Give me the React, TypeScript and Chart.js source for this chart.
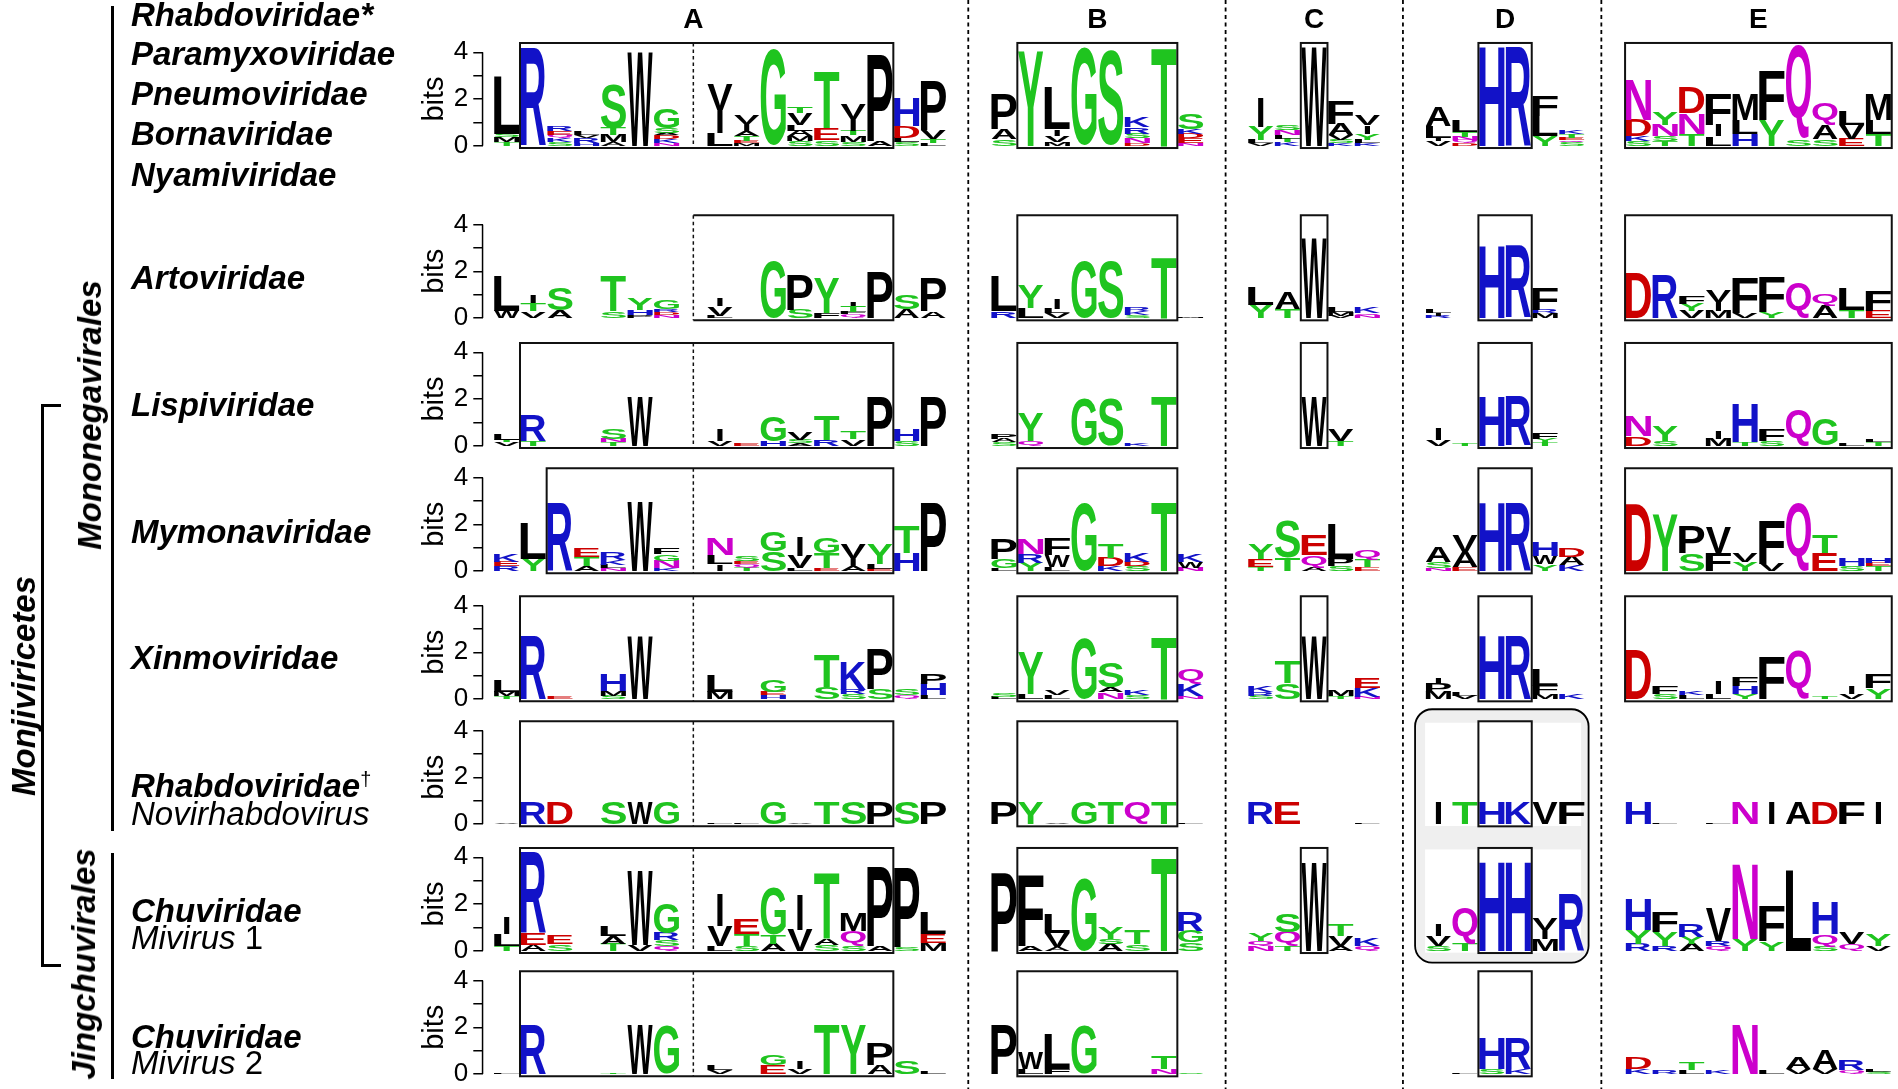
import React, { useEffect, useRef } from 'react';
import { Chart, registerables } from 'chart.js';

Chart.register(...registerables);

// ---------------- data: sequence-logo stacks, "letter + bits", listed bottom -> top ----------------
const SECTION_LABELS = ['A', 'B', 'C', 'D', 'E'];
const Y_TICK_LABELS = ['0', '', '2', '', '4'];

const PARAMYXO_A = ['T.15 M.2 S.15 L2.45', 'R4.2', 'S.15 K.18 Q.14 E.14 R.2', 'H.12 R.2 V.12 L.15', 'A.15 M.3 T.3 S1.9', 'W4.0', 'N.12 K.18 D.14 A.1 S.2 G.86', '', 'L.53 I1.0 V1.07', 'M.1 E.1 T.2 A.2 I.33 V.39', 'G4.1', 'S.2 M.2 A.25 L.25 V.5 T.26', 'S.24 E.5 T2.45', 'S.17 M.28 T.2 I.5 V.65', 'A.2 P3.7', 'S.15 L.2 D.5 H1.2', 'L.12 T.18 V.36 P2.07'];
const PARAMYXO_B = ['S.28 A.43 P1.47', 'Y4.05', 'M.15 V.28 I.28 L1.8', 'G4.2', 'S4.05', 'D.12 N.2 S.2 R.28 K.43', 'T4.2', 'N.12 E.2 D.2 K.2 S.65'];
const PARAMYXO_C = ['V.1 L.14 Y.57 I1.26', 'K.15 T.15 L.15 N.2 S.2', 'W4.2', 'K.1 S.14 V.2 A.5 F.97', 'K.1 L.14 Y.28 I.35 V.43'];
const PARAMYXO_D = ['V.2 I.14 L.5 A.8', 'D.12 Q.12 N.15 T.2 L.5', 'H4.25', 'R4.25', 'Y.43 L.85 F.86', 'S.14 Q.1 E.1 T.15 K.15'];
const PARAMYXO_E = ['S.2 K.2 D.7 N1.7', 'T.2 S.2 N.5 Y.55', 'T.5 N.9 D1.1', 'L.4 I.5 F1.3', 'H.5 L.6 M1.1', 'Y1.1 F2.1', 'S.3 Q4.0', 'S.3 A.6 Q.9', 'E.3 V.6 L.6', 'T.5 L.6 M1.1'];

const ARTO_A = ['W.3 L1.5', 'V.28 T.35 I.35', 'A.35 S.93', '', 'S.28 T1.5', 'P.12 H.22 Y.5', 'N.12 D.12 R.12 G.36', '', 'L.1 V.4 I.3', '', 'G2.4', 'S.36 P1.5', 'F.2 Y1.5', 'Q.15 F.1 T.25 I.15', 'P2.0', 'A.36 S.64', 'A.28 P1.45'];
const ARTO_B = ['R.28 L1.5', 'L.43 Y1.0', 'V.2 L.2 I.43', 'G2.4', 'S2.4', 'S.12 K.18 R.18', 'T2.6', 'M.05'];
const ARTO_C = ['Y.57 L.78', 'T.36 A.7', 'W3.4', 'V.1 M.15 L.2', 'N.1 Q.1 K.28'];
const ARTO_D = ['R.1 I.12 L.15', '', 'H3.1', 'R3.1', 'M.2 R.15 F.93', ''];
const ARTO_E = ['D1.9', 'R1.85', 'V.3 Y.3 F.35', 'M.3 I.4 V.5', 'V.2 F1.5', 'Y.25 F1.5', 'Q1.5', 'A.55 Q.5', 'T.35 L.9', 'E.3 F.9'];

const LISPI_A = ['V.15 T.1 L.25', 'T.2 R1.1', '', '', 'T.15 N.15 S.43', 'W2.1', '', '', 'V.2 I.5', 'E.1', 'H.2 G1.07', 'A.1 S.15 V.3', 'R.25 T1.03', 'V.28 T.3', 'P2.1', 'S.2 H.5', 'P2.1'];
const LISPI_B = ['S.15 A.15 P.2', 'Q.2 Y1.2', '', 'G2.05', 'S2.05', 'K.1', 'T2.1', ''];
const LISPI_C = ['', '', 'W2.1', 'T.2 V.5', ''];
const LISPI_D = ['V.25 I.5', 'T.1', 'H2.1', 'R2.1', 'T.15 Y.15 F.25', ''];
const LISPI_E = ['D.4 N.9', 'S.2 Y.65', '', 'M.3 I.3', 'T.15 H1.65', 'S.2 F.5', 'Q1.55', 'G1.1', 'L.1', 'T.15 L.1'];

const MYMONA_A = ['R.2 E.2 K.32', 'Y.53 L1.53', 'R2.95', 'A.2 T.38 E.39', 'N.12 L.14 K.2 R.3', 'W2.95', 'K.12 N.32 G.3 F.26', '', 'I.28 L.4 N.7', 'T.15 Q.15 E.12 S.2', 'S.85 G.86', 'L.12 V.53 I.8', 'E.12 T.64 G.65', 'A.2 I.36 V.57', 'E.1 L.2 Y.86', 'H.75 T1.15', 'P2.95'];
const MYMONA_B = ['L.12 G.4 P.86', 'Y.36 R.36 N.64', 'L.17 W.5 F.69', 'G2.95', 'K.2 D.36 T.61', 'S.2 D.2 K.36', 'T2.95', 'N.14 W.24 K.31'];
const MYMONA_C = ['T.17 E.33 Y.64', 'T.57 S1.57', 'A.17 Q.5 E.86', 'S.2 P.3 L1.46', 'E.15 T.3 Q.43'];
const MYMONA_D = ['N.12 S.25 A.64', 'E.17 A.64 V.71', 'H2.95', 'R2.95', 'Y.28 W.36 H.61', 'K.25 A.36 D.36'];
const MYMONA_E = ['D2.85', 'Y2.4', 'S.75 P1.15', 'F.75 V1.1', 'Y.4 V.4', 'V.3 F1.9', 'Q2.9', 'E.75 T.75', 'S.2 H.3', 'T.2 E.15 H.2'];

const XINMO_A = ['T.12 M.2 L.5', 'R2.7', 'E.08', '', 'S.14 M.2 H.7', 'W2.7', '', '', 'M.3 L.7', '', 'H.15 E.15 G.5', '', 'S.5 T1.35', 'S.2 R.2 K1.2', 'S.43 P1.7', 'Q.15 S.25', 'L.15 H.5 P.43'];
const XINMO_B = ['L.1 S.15', 'L.2 Y1.8', 'L.15 V.2', 'G2.6', 'N.28 A.2 S1.07', 'S.15 K.2', 'T2.65', 'N.12 K.5 Q.6'];
const XINMO_C = ['S.14 R.14 K.28', 'S.67 T.93', 'W2.7', 'T.12 M.28', 'N.1 K.37 E.43'];
const XINMO_D = ['M.3 P.36 I.28', 'V.14 L.14', 'H2.7', 'R2.7', 'M.2 F.36 L.7', 'K.2'];
const XINMO_E = ['D2.1', 'S.2 F.35', 'L.15 K.15', 'L.2 I.55', 'Y.2 H.35 F.4', 'F1.8', 'Q2.1', 'T.1', 'V.2 I.35', 'Y.45 F.6'];

const NOVIRHABDO_A = ['V.04', 'R.93', 'D.93', '', 'S.93', 'W.93', 'G.93', '', 'L.04', 'L.04', 'G.93', 'V.04', 'T.93', 'S.93', 'P.93', 'S.93', 'P.93'];
const NOVIRHABDO_B = ['P.93', 'Y.93', 'V.04', 'G.93', 'T.93', 'Q.93', 'T.93', 'L.04'];
const NOVIRHABDO_C = ['R.93', 'E.93', '', '', 'L.04'];
const NOVIRHABDO_D = ['I.93', 'T.93', 'H.93', 'K.93', 'V.93', 'F.93'];
const NOVIRHABDO_E = ['H.93', 'L.04', '', 'L.04', 'N.93', 'I.93', 'A.93', 'D.93', 'F.93', 'I.93'];

const MIVIRUS1_A = ['T.2 L.5 I.7', 'A.25 E.5 R3.5', 'S.3 E.4', '', 'T.3 A.35 L.45', 'V.25 W3.2', 'Q.2 S.25 R.3 G1.3', '', 'L.2 V.85 I1.4', 'S.2 T.5 E.65', 'A.3 T.4 G2.0', 'V.9 I1.5', 'S.25 A.25 T2.8', 'S.2 Q.65 M.75', 'A.2 P3.4', 'S.15 P3.45', 'M.35 E.35 L.9'];
const MIVIRUS1_B = ['P3.35', 'A.2 F3.05', 'A.15 V.6 L.8', 'G3.1', 'A.3 S.2 Y.5', 'S.3 T.6', 'T4.0', 'S.35 G.5 R.85'];
const MIVIRUS1_C = ['N.2 Q.2 Y.3', 'T.2 Q.6 S.78', 'W3.8', 'A.2 V.45 T.5', 'Q.2 K.3'];
const MIVIRUS1_D = ['S.2 V.45 I.5', 'T.3 Q1.55', 'H3.8', 'H3.8', 'M.5 I.4 V.5', 'R2.4'];
const MIVIRUS1_E = ['R.3 Y.6 H1.3', 'R.2 Y.6 F.9', 'A.3 Y.3 R.55', 'Q.2 R.2 V1.4', 'Y.5 N3.2', 'Y.4 F1.5', 'L3.45', 'S.2 Q.5 H1.35', 'Q.3 V.5', 'V.2 Y.5'];

const MIVIRUS2_A = ['L.05', 'R2.1', '', '', 'T.06', 'W2.1', 'G2.1', '', 'V.15 L.2', '', 'E.4 G.45', 'V.2 I.3', 'T2.1', 'Y2.1', 'A.4 P.95', 'S.55', 'L.08'];
const MIVIRUS2_B = ['P2.1', 'L.2 W.7', 'F.2 L1.5', 'G2.1', '', '', 'N.2 T.55', 'S.08'];
const MIVIRUS2_C = ['', '', '', '', ''];
const MIVIRUS2_D = ['', 'L.05', 'S.2 H1.3', 'K.2 R1.3', '', ''];
const MIVIRUS2_E = ['K.2 D.5', 'R.15', 'L.15 T.3', 'K.15', 'N2.1', 'L.15', 'V.2 A.5', 'V.2 A.8', 'Q.15 R.45', 'S.1 L.1'];

const ROWS = [
  [PARAMYXO_A, PARAMYXO_B, PARAMYXO_C, PARAMYXO_D, PARAMYXO_E],
  [ARTO_A, ARTO_B, ARTO_C, ARTO_D, ARTO_E],
  [LISPI_A, LISPI_B, LISPI_C, LISPI_D, LISPI_E],
  [MYMONA_A, MYMONA_B, MYMONA_C, MYMONA_D, MYMONA_E],
  [XINMO_A, XINMO_B, XINMO_C, XINMO_D, XINMO_E],
  [NOVIRHABDO_A, NOVIRHABDO_B, NOVIRHABDO_C, NOVIRHABDO_D, NOVIRHABDO_E],
  [MIVIRUS1_A, MIVIRUS1_B, MIVIRUS1_C, MIVIRUS1_D, MIVIRUS1_E],
  [MIVIRUS2_A, MIVIRUS2_B, MIVIRUS2_C, MIVIRUS2_D, MIVIRUS2_E],
];

// boxes drawn around conserved motifs
const A_BOX_START = [1, 7.5, 1, 2, 1, 1, 1, 1];
const HAS_C_BOX = [true, true, true, false, true, false, true, false];
const HAS_E_BOX = [true, true, true, true, true, false, false, false];

// ---------------- layout ----------------
const CANVAS_W = 1898;
const CANVAS_H = 1089;
const TOP = 40;
const BOTTOM = 1076;
const PX_PER_BIT = 23.35;
const AXIS_X = 483.3;
const ORIGIN_X = 493.33;
const COL_PX = 26.667;
const ROW_ZERO_PX = [145.7, 318, 445.7, 571, 699, 824, 950.7, 1074];
const SECTION_START = [0, 18.65, 28.28, 34.94, 42.44];
const SECTION_CENTERS = [SECTION_START[0] + 7.5, SECTION_START[1] + 4, SECTION_START[2] + 2.5, SECTION_START[3] + 3, SECTION_START[4] + 5];
const SEPARATORS = [17.81, 27.46, 34.11, 41.55];
const A_DIVIDER = 7.5;
const A_BOX_END = 15;
const BOX_B = [1, 7];
const BOX_C = [2, 3];
const BOX_D = [2, 4];
const BOX_E = [0, 10];
const BOX_TOP = 4.4;
const BOX_BOTTOM = -0.1;

const FONT = '"Liberation Sans", Arial, Helvetica, sans-serif';
const GREEN = '#1fc41f';
const BLUE = '#1212c8';
const RED = '#cc0000';
const MAGENTA = '#cc00cc';

const COLOR: Record<string, string> = {};
'GSTYC'.split('').forEach((c) => (COLOR[c] = GREEN));
'NQ'.split('').forEach((c) => (COLOR[c] = MAGENTA));
'KRH'.split('').forEach((c) => (COLOR[c] = BLUE));
'DE'.split('').forEach((c) => (COLOR[c] = RED));

const BASES = ROW_ZERO_PX.map((z) => (BOTTOM - z) / PX_PER_BIT);
const Y_MAX = (BOTTOM - TOP) / PX_PER_BIT;
const X_MIN = (AXIS_X - ORIGIN_X) / COL_PX;
const X_MAX = (CANVAS_W - ORIGIN_X) / COL_PX;

function buildDatasets() {
  const levels: any[][] = [];
  ROWS.forEach((row, r) => {
    const base = BASES[r];
    row.forEach((cols, s) => {
      cols.forEach((col, c) => {
        let cum = 0;
        col.split(' ').filter(Boolean).forEach((tok, k) => {
          const letter = tok[0];
          const h = parseFloat(tok.slice(1));
          if (!(h > 0)) return;
          if (!levels[k]) levels[k] = [];
          levels[k].push({ x: SECTION_START[s] + c + 0.5, y: [base + cum, base + cum + h], letter });
          cum += h;
        });
      });
    });
  });
  return levels.map((data, k) => ({
    type: 'bar',
    label: 'stack level ' + k,
    data,
    backgroundColor: 'rgba(0,0,0,0)',
    borderWidth: 0,
    grouped: false,
    barPercentage: 1,
    categoryPercentage: 1,
    clip: false,
  }));
}

const glyphCache: Record<string, { l: number; r: number; a: number; d: number }> = {};
function getGlyph(ctx: CanvasRenderingContext2D, ch: string) {
  if (!glyphCache[ch]) {
    ctx.save();
    ctx.font = `bold 200px ${FONT}`;
    const m = ctx.measureText(ch);
    ctx.restore();
    glyphCache[ch] = { l: m.actualBoundingBoxLeft, r: m.actualBoundingBoxRight, a: m.actualBoundingBoxAscent, d: m.actualBoundingBoxDescent };
  }
  return glyphCache[ch];
}

function drawLetter(ctx: CanvasRenderingContext2D, ch: string, x: number, y: number, w: number, h: number) {
  if (h < 0.3 || w <= 0) return;
  const g = getGlyph(ctx, ch);
  const gw = g.l + g.r;
  const gh = g.a + g.d;
  if (gw <= 0 || gh <= 0) return;
  let tw = w - 1.5;
  let x0 = x + 0.75;
  if (ch === 'I') {
    tw = w * 0.2;
    x0 = x + (w - tw) / 2;
  }
  ctx.save();
  ctx.translate(x0, y);
  ctx.scale(tw / gw, h / gh);
  ctx.font = `bold 200px ${FONT}`;
  ctx.fillStyle = COLOR[ch] || '#000';
  ctx.textAlign = 'left';
  ctx.textBaseline = 'alphabetic';
  ctx.fillText(ch, g.l, g.a);
  ctx.restore();
}

function roundRect(ctx: CanvasRenderingContext2D, x: number, y: number, w: number, h: number, r: number) {
  ctx.beginPath();
  ctx.moveTo(x + r, y);
  ctx.arcTo(x + w, y, x + w, y + h, r);
  ctx.arcTo(x + w, y + h, x, y + h, r);
  ctx.arcTo(x, y + h, x, y, r);
  ctx.arcTo(x, y, x + w, y, r);
  ctx.closePath();
}

const logoPlugin = {
  id: 'logoPlugin',
  beforeDatasetsDraw(chart: any) {
    const { ctx } = chart;
    const xs = chart.scales.x;
    const ys = chart.scales.y;
    const px = (u: number) => xs.getPixelForValue(u);
    const py = (v: number) => ys.getPixelForValue(v);
    const d0 = SECTION_START[3];
    const x0 = px(d0) - 10;
    const x1 = px(d0 + 6) + 3.5;
    const y0 = py(BASES[5] + BOX_TOP) - 12;
    const y1 = py(BASES[6]) + 12;
    ctx.save();
    roundRect(ctx, x0, y0, x1 - x0, y1 - y0, 17);
    ctx.fillStyle = '#efefef';
    ctx.fill();
    ctx.fillStyle = '#ffffff';
    [5, 6].forEach((r) => {
      const t = py(BASES[r] + BOX_TOP) + 1.5;
      const b = py(BASES[r]) + 2;
      ctx.fillRect(px(d0), t, px(d0 + 6) - 4 - px(d0), b - t);
    });
    roundRect(ctx, x0, y0, x1 - x0, y1 - y0, 17);
    ctx.strokeStyle = '#000';
    ctx.lineWidth = 1.8;
    ctx.stroke();
    ctx.restore();
  },
  afterDatasetsDraw(chart: any) {
    const { ctx } = chart;
    const xs = chart.scales.x;
    const ys = chart.scales.y;
    const px = (u: number) => xs.getPixelForValue(u);
    const py = (v: number) => ys.getPixelForValue(v);

    // letters
    chart.data.datasets.forEach((ds: any, di: number) => {
      const meta = chart.getDatasetMeta(di);
      meta.data.forEach((el: any, i: number) => {
        const p = el.getProps(['x', 'y', 'base', 'width'], true);
        const raw = ds.data[i];
        const top = Math.min(p.y, p.base);
        drawLetter(ctx, raw.letter, p.x - p.width / 2, top, p.width, Math.abs(p.base - p.y));
      });
    });

    ctx.save();
    ctx.strokeStyle = '#111';
    // boxes
    BASES.forEach((b, r) => {
      const yT = py(b + BOX_TOP);
      const yB = py(b + BOX_BOTTOM);
      const rect = (u0: number, u1: number) => ctx.strokeRect(px(u0), yT, px(u1) - px(u0), yB - yT);
      ctx.lineWidth = 2;
      ctx.setLineDash([]);
      const a0 = SECTION_START[0] + A_BOX_START[r];
      const a1 = SECTION_START[0] + A_BOX_END;
      ctx.beginPath();
      ctx.moveTo(px(a0), yT);
      ctx.lineTo(px(a1), yT);
      ctx.lineTo(px(a1), yB);
      ctx.lineTo(px(a0), yB);
      if (A_BOX_START[r] !== A_DIVIDER) ctx.closePath();
      ctx.stroke();
      rect(SECTION_START[1] + BOX_B[0], SECTION_START[1] + BOX_B[1]);
      if (HAS_C_BOX[r]) rect(SECTION_START[2] + BOX_C[0], SECTION_START[2] + BOX_C[1]);
      rect(SECTION_START[3] + BOX_D[0], SECTION_START[3] + BOX_D[1]);
      if (HAS_E_BOX[r]) rect(SECTION_START[4] + BOX_E[0], SECTION_START[4] + BOX_E[1]);
      // dashed divider inside A
      ctx.lineWidth = 1.5;
      ctx.setLineDash([3.5, 3]);
      const xd = px(SECTION_START[0] + A_DIVIDER);
      ctx.beginPath();
      ctx.moveTo(xd, yT);
      ctx.lineTo(xd, yB);
      ctx.stroke();
    });

    // section separators
    ctx.strokeStyle = '#000';
    ctx.lineWidth = 1.8;
    ctx.setLineDash([4, 3.5]);
    SEPARATORS.forEach((u) => {
      const x = px(u);
      ctx.beginPath();
      ctx.moveTo(x, 0);
      ctx.lineTo(x, chart.height);
      ctx.stroke();
    });
    ctx.setLineDash([]);

    // per-row axis lines and "bits" titles
    ctx.lineWidth = 1.5;
    ctx.fillStyle = '#000';
    ctx.font = `29px ${FONT}`;
    ctx.textAlign = 'center';
    ctx.textBaseline = 'middle';
    BASES.forEach((b) => {
      ctx.beginPath();
      ctx.moveTo(ys.right - 0.75, py(b));
      ctx.lineTo(ys.right - 0.75, py(b + 4));
      ctx.stroke();
      ctx.save();
      ctx.translate(ys.right - 48, py(b + 2));
      ctx.rotate(-Math.PI / 2);
      ctx.fillText('bits', 0, 0);
      ctx.restore();
    });
    ctx.restore();
  },
};

function yTickLabel(value: number) {
  for (const b of BASES) {
    const d = value - b;
    if (d > -0.01 && d < 4.01) return Y_TICK_LABELS[Math.round(d)] ?? '';
  }
  return '';
}

const LABEL_STYLE: React.CSSProperties = {
  position: 'absolute',
  left: 131,
  height: 38,
  lineHeight: '38px',
  fontSize: 33,
  fontFamily: FONT,
  color: '#000',
  whiteSpace: 'nowrap',
};
const BI: React.CSSProperties = { fontWeight: 'bold', fontStyle: 'italic' };

function Label({ y, children }: { y: number; children: React.ReactNode }) {
  return <div style={{ ...LABEL_STYLE, top: y - 19 }}>{children}</div>;
}

function VLabel({ x, y, text }: { x: number; y: number; text: string }) {
  return (
    <div
      style={{
        position: 'absolute',
        left: x,
        top: y,
        transform: 'translate(-50%, -50%) rotate(-90deg)',
        fontSize: 33,
        lineHeight: '38px',
        fontFamily: FONT,
        whiteSpace: 'nowrap',
        ...BI,
      }}
    >
      {text}
    </div>
  );
}

function Line({ l, t, w, h }: { l: number; t: number; w: number; h: number }) {
  return <div style={{ position: 'absolute', left: l, top: t, width: w, height: h, background: '#000' }} />;
}

export default function App() {
  const ref = useRef<HTMLCanvasElement>(null);
  useEffect(() => {
    Chart.defaults.font.family = FONT;
    Chart.defaults.color = '#000';
    const chart = new Chart(ref.current as HTMLCanvasElement, {
      type: 'bar',
      data: { datasets: buildDatasets() as any },
      options: {
        animation: false,
        responsive: true,
        maintainAspectRatio: false,
        layout: { padding: { left: 0, right: 0, top: 0, bottom: CANVAS_H - BOTTOM }, autoPadding: false } as any,
        plugins: { legend: { display: false }, tooltip: { enabled: false }, title: { display: false } },
        scales: {
          x: {
            type: 'linear',
            position: 'top',
            offset: false,
            min: X_MIN,
            max: X_MAX,
            bounds: 'data',
            grid: { display: false, drawTicks: false, offset: false },
            border: { display: false },
            ticks: {
              autoSkip: false,
              maxRotation: 0,
              padding: 3,
              color: '#000',
              font: { size: 28, weight: 'bold', family: FONT },
              callback: (_v: any, i: number) => SECTION_LABELS[i] ?? '',
            },
            afterBuildTicks: (s: any) => {
              s.ticks = SECTION_CENTERS.map((v) => ({ value: v }));
            },
            afterFit: (s: any) => {
              s.height = TOP;
              s.paddingLeft = 0;
              s.paddingRight = 0;
              s.paddingTop = 0;
              s.paddingBottom = 0;
            },
          },
          y: {
            type: 'linear',
            position: 'left',
            offset: false,
            min: 0,
            max: Y_MAX,
            bounds: 'data',
            grid: { display: true, drawOnChartArea: false, drawTicks: true, tickLength: 10, color: '#000', lineWidth: 1.5, offset: false },
            border: { display: false },
            ticks: {
              autoSkip: false,
              padding: 5,
              color: '#000',
              font: { size: 26, family: FONT },
              callback: (v: any) => yTickLabel(Number(v)),
            },
            afterBuildTicks: (s: any) => {
              const t: { value: number }[] = [];
              BASES.forEach((b) => [0, 1, 2, 3, 4].forEach((k) => t.push({ value: b + k })));
              t.sort((a, b) => a.value - b.value);
              s.ticks = t;
            },
            afterFit: (s: any) => {
              s.width = AXIS_X;
              s.paddingTop = 0;
              s.paddingBottom = 0;
              s.paddingLeft = 0;
              s.paddingRight = 0;
            },
          },
        },
      } as any,
      plugins: [logoPlugin as any],
    });
    return () => chart.destroy();
  }, []);

  return (
    <div style={{ position: 'absolute', left: 0, top: 0, width: CANVAS_W, height: CANVAS_H, background: '#fff', overflow: 'hidden' }}>
      <div style={{ position: 'absolute', left: 0, top: 0, width: CANVAS_W, height: CANVAS_H }}>
        <canvas ref={ref} />
      </div>

      <Label y={14.5}><span style={BI}>Rhabdoviridae*</span></Label>
      <Label y={54.4}><span style={BI}>Paramyxoviridae</span></Label>
      <Label y={94.2}><span style={BI}>Pneumoviridae</span></Label>
      <Label y={134}><span style={BI}>Bornaviridae</span></Label>
      <Label y={175}><span style={BI}>Nyamiviridae</span></Label>
      <Label y={278}><span style={BI}>Artoviridae</span></Label>
      <Label y={405}><span style={BI}>Lispiviridae</span></Label>
      <Label y={531.5}><span style={BI}>Mymonaviridae</span></Label>
      <Label y={658}><span style={BI}>Xinmoviridae</span></Label>
      <Label y={786}>
        <span style={BI}>Rhabdoviridae</span>
        <span style={{ fontSize: 20, position: 'relative', top: -11 }}>†</span>
      </Label>
      <Label y={813.5}><span style={{ fontStyle: 'italic' }}>Novirhabdovirus</span></Label>
      <Label y={911}><span style={BI}>Chuviridae</span></Label>
      <Label y={938}><span style={{ fontStyle: 'italic' }}>Mivirus</span> 1</Label>
      <Label y={1036.5}><span style={BI}>Chuviridae</span></Label>
      <Label y={1063}><span style={{ fontStyle: 'italic' }}>Mivirus</span> 2</Label>

      <VLabel x={90} y={415} text="Mononegavirales" />
      <VLabel x={24} y={686} text="Monjiviricetes" />
      <VLabel x={84} y={964} text="Jingchuvirales" />

      <Line l={110.8} t={6} w={3} h={825} />
      <Line l={110.8} t={853} w={3} h={226} />
      <Line l={40.8} t={404} w={3} h={563} />
      <Line l={40.8} t={404} w={20} h={3} />
      <Line l={40.8} t={964} w={20} h={3} />
    </div>
  );
}
